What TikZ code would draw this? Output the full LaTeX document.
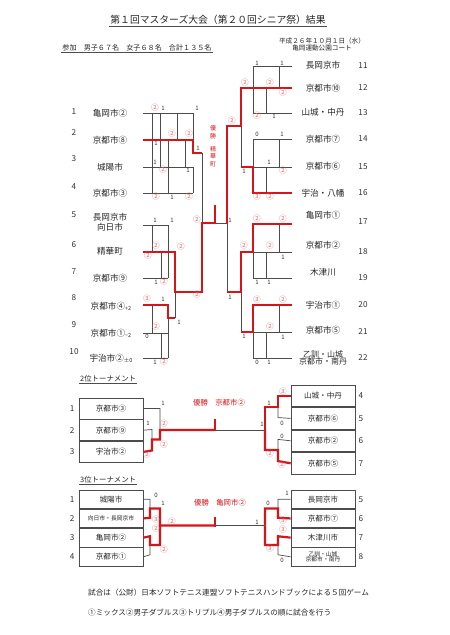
\documentclass[tikz,border=0pt]{standalone}
\usepackage{fontspec}
\setmainfont{Noto Sans CJK JP}
\usetikzlibrary{positioning}
\newcommand{\fsz}[1]{\fontsize{#1}{#1}\selectfont}
\definecolor{linered}{RGB}{215,20,25}
\definecolor{scorered}{RGB}{235,105,110}

\begin{document}
\begin{tikzpicture}[
    x=1pt, y=-1pt,
    team/.style={font=\fsz{8.6}, text=black!85, inner sep=0pt},
    seed/.style={font=\fsz{8.2}, text=black!80, inner sep=0pt},
    win/.style={font=\fsz{7.6}, text=scorered, inner sep=0pt},
    lose/.style={font=\fsz{6}, text=black!80, inner sep=0pt},
    bline/.style={draw=black!70, line width=0.7pt},
    rline/.style={draw=linered, line width=2.2pt},
    tbox/.style={draw=black!70, line width=0.7pt, minimum width=64pt,
                 font=\fsz{7.6}, text=black!85, inner sep=0pt, align=center},
    head/.style={font=\fsz{7.4}, text=black!85, inner sep=1pt},
    champ/.style={font=\fsz{7.4}, text=linered, inner sep=0pt},
]
\useasboundingbox[fill=white] (0,0) rectangle (450,635);

% Title
\node[font=\fsz{9.8}, text=black!85, inner sep=1pt] (title) at (218,20)
    {第１回マスターズ大会（第２０回シニア祭）結果};
\draw[black!70, line width=0.5pt] (title.south west) -- (title.south east);
\node[head, font=\fsz{7.1}] (entry) at (137,48) {参加　男子６７名　女子６８名　合計１３５名};
\draw[black!70, line width=0.5pt] (entry.south west) -- (entry.south east);
\node[head, font=\fsz{6.6}, inner sep=0pt] (date) at (322,40.5) {平成２６年１０月１日（水）};
\node[head, font=\fsz{6.6}, inner sep=0pt] (venue) at (322,47.5) {亀岡運動公園コート};

% Left teams
\foreach \i/\y/\ny/\name in {1/113/112/亀岡市②, 2/140/133/京都市⑧, 3/167/159/城陽市,
    4/193/187/京都市③, 6/251/245/精華町, 7/278/272/京都市⑨} {
  \node[seed] (n\i) at (74,\ny) {\i};
  \node[team] (t\i) at (110,\y) {\name};
}
\node[seed] (n5) at (74,215) {5};
\node[team, align=center] (t5) at (110,222) {長岡京市\\[1pt]向日市};
\node[seed] (n8) at (74,298) {8};
\node[team] (t8) at (111,306) {京都市④\raisebox{-1pt}{\fsz{5.5}+2}};
\node[seed] (n9) at (74,325) {9};
\node[team] (t9) at (111,333) {京都市①\raisebox{-1pt}{\fsz{5.5}−2}};
\node[seed] (n10) at (74,352) {10};
\node[team] (t10) at (111,358) {宇治市②\raisebox{-1pt}{\fsz{5.5}±0}};

% Right teams
\foreach \i/\y/\ty/\name in {11/66/65/長岡京市, 12/88/88/京都市⑩, 13/113/112/山城・中丹,
    14/139/139/京都市⑦, 15/167/166/京都市⑥, 16/193/193/宇治・八幡,
    17/222/215/亀岡市①, 18/252/245/京都市②, 19/278/272/木津川,
    20/305/305/宇治市①, 21/332/330/京都市⑤} {
  \node[team] (t\i) at (323,\ty) {\name};
  \node[seed] (n\i) at (363,\y) {\i};
}
\node[team, align=center, font=\fsz{8}] (t22) at (323,358) {乙訓・山城\\[-1pt]京都市・南丹};
\node[seed] (n22) at (363,358) {22};

% Group 1-4
\draw[bline] (143,113) -- (193,113) (143,167) -- (193,167) (143,193) -- (193,193);
\draw[bline] (152,113) -- (152,193) (160,113) -- (160,167) (168,140) -- (168,193)
             (177,113) -- (177,140) (185,140) -- (185,167)
             (193,113) -- (193,140) (193,167) -- (193,193);
\draw[rline] (143,140) -- (193,140) -- (193,153) -- (202,153);

% Groups 5-7 and 8-10
\foreach \ya/\yb/\yc in {225/252/278, 305/333/358}
  \draw[bline] (143,\ya) -- (168,\ya) (143,\yb) -- (168,\yb) (143,\yc) -- (168,\yc)
               (152,\ya) -- (152,\yb) (161,\yb) -- (161,\yc) (168,\ya) -- (168,\yc);
\draw[bline] (175,292) -- (175,318) (202,153) -- (202,223) (215,223) -- (227,223);
\draw[rline] (143,305) -- (168,305) -- (168,318) -- (175,318);
\draw[rline] (143,252) -- (175,252) -- (175,292) -- (202,292) -- (202,223) -- (215,223);
\draw[rline] (215,224) -- (215,205);

% Right groups
\foreach \ya/\yb/\yc in {66/88/113, 139/167/193, 224/252/278, 305/332/358}
  \draw[bline] (253,\ya) -- (292,\ya) (253,\yb) -- (292,\yb) (253,\yc) -- (292,\yc)
               (253,\ya) -- (253,\yc) (266,\yb) -- (266,\yc) (279,\ya) -- (279,\yb);
\draw[bline] (241,126) -- (241,167) (241,292) -- (241,332) (227,223) -- (227,292);
\draw[rline] (292,88) -- (241,88) -- (241,126) -- (227,126) -- (227,224);
\draw[rline] (292,193) -- (253,193) -- (253,167) -- (241,167);
\draw[rline] (292,224) -- (253,224) -- (253,252) -- (241,252) -- (241,292) -- (227,292);
\draw[rline] (292,305) -- (253,305) -- (253,332) -- (241,332);

% Champion
\node[font=\fsz{6}, text=linered, align=center, inner sep=0pt] (champ1) at (213,146)
    {優\\[1.5pt]勝\\[7pt]精\\[1.5pt]華\\[1.5pt]町};

% Scores, main bracket
\foreach \x/\y/\s [count=\i] in {155/108/②, 172/134/②, 189/134/②, 163/170/②, 156/197/②, 189/197/②,
    156/246/②, 148/256/②, 181/247/②, 164/282/②, 147/299/③, 156/327/②, 164/362/②,
    197/295/②, 197/220/②, 232/121/②, 245/83/②, 270/83/②, 283/93/②, 257/116/②,
    283/171/②, 257/197/③, 270/197/②, 257/219/②, 283/219/②, 270/246/②, 244/246/②,
    257/300/③, 283/300/②, 270/327/②}
  \node[win] (w\i) at (\x,\y) {\s};
\foreach \x/\y/\s [count=\i] in {163/108/1, 197/108/1, 156/143/1, 155/162/1, 188/170/1, 172/197/1,
    198/148/1, 155/220/1, 172/220/1, 156/282/1, 163/299/1, 147/336/0, 155/362/1, 179/322/1,
    230/220/1, 230/297/1, 257/63/1, 282/63/1, 274/116/1, 244/171/1, 257/134/0, 282/134/1,
    269/162/1, 283/257/1, 257/282/1, 269/282/1, 283/337/1, 257/362/0, 269/362/1, 244/336/1}
  \node[lose] (l\i) at (\x,\y) {\s};

% 2nd place tournament
\node[head, anchor=west] (sec) at (79,379) {2位トーナメント};
\draw[black!70, line width=0.5pt] (sec.south west) -- (sec.south east);
\node[tbox, minimum height=21pt] (a1) at (111,408.5) {京都市③};
\node[tbox, minimum height=21pt, below=0pt of a1] (a2) {京都市⑨};
\node[tbox, minimum height=21pt, below=0pt of a2] (a3) {宇治市②};
\node[tbox, minimum height=21.75pt] (b4) at (323,395.9) {山城・中丹};
\node[tbox, minimum height=21.75pt, below=0pt of b4] (b5) {京都市⑥};
\node[tbox, minimum height=21.75pt, below=0pt of b5] (b6) {京都市②};
\node[tbox, minimum height=21.75pt, below=0pt of b6] (b7) {京都市⑤};
\foreach \n in {1,2,3} \node[seed, left=4pt of a\n] (an\n) {\n};
\foreach \n in {4,5,6,7} \node[seed, right=3pt of b\n] (bn\n) {\n};

\draw[bline] (a1.east) -- (160,408.5) -- (160,430) (a2.east) -- (152,429.5) -- (152,439.5);
\draw[rline] (a3.east) -- (152,450.5) -- (152,439.5) -- (160,439.5) -- (160,430) -- (215,430);
\draw[rline] (215,431) -- (215,419);
\draw[bline] (215,430) -- (265,430);
\draw[bline] (b5.west) -- (278,417.6) -- (278,407) (b6.west) -- (278,439.4) -- (278,450);
\draw[rline] (b4.west) -- (278,395.9) -- (278,407) -- (265,407) -- (265,430);
\draw[rline] (b7.west) -- (278,461.1) -- (278,450) -- (265,450) -- (265,430);
\node[champ] (champ2) at (219,403) {優勝　京都市②};

\foreach \x/\y/\s [count=\i] in {164/424/②, 164/445/②, 147/455/②, 283/392/③, 270/454/②, 282/465/②}
  \node[win] (sw\i) at (\x,\y) {\s};
\foreach \x/\y/\s [count=\i] in {163/403/1, 148/423/1, 269/403/1, 282/423/0, 262/424/1, 282/436/0}
  \node[lose] (sl\i) at (\x,\y) {\s};

% 3rd place tournament
\node[head, anchor=west] (thi) at (79,480) {3位トーナメント};
\draw[black!70, line width=0.5pt] (thi.south west) -- (thi.south east);
\node[tbox, minimum height=18.5pt] (c1) at (111,499.25) {城陽市};
\node[tbox, minimum height=18.5pt, below=0pt of c1, font=\fsz{5.8}] (c2) {向日市・長岡京市};
\node[tbox, minimum height=18.5pt, below=0pt of c2] (c3) {亀岡市②};
\node[tbox, minimum height=18.5pt, below=0pt of c3] (c4) {京都市①};
\node[tbox, minimum height=18.5pt] (d5) at (323,499.25) {長岡京市};
\node[tbox, minimum height=18.5pt, below=0pt of d5] (d6) {京都市⑦};
\node[tbox, minimum height=18.5pt, below=0pt of d6] (d7) {木津川市};
\node[tbox, minimum height=18.5pt, below=0pt of d7, font=\fsz{5.8}] (d8) {乙訓・山城\\京都市・南丹};
\foreach \n in {1,2,3,4} \node[seed, left=4pt of c\n] (cn\n) {\n};
\foreach \n in {5,6,7,8} \node[seed, right=3pt of d\n] (dn\n) {\n};

\draw[bline] (c1.east) -- (150,499.25) -- (150,508.5) (c4.east) -- (150,554.75) -- (150,545);
\draw[rline] (c2.east) -- (150,517.75) -- (150,508.5) -- (160,508.5) -- (160,525.5);
\draw[rline] (c3.east) -- (150,536.25) -- (150,545) -- (160,545) -- (160,525.5) -- (215,525.5);
\draw[rline] (215,526.5) -- (215,517);
\draw[bline] (215,525.5) -- (265,525.5);
\draw[bline] (d5.west) -- (278,499.25) -- (278,508.5) (d8.west) -- (278,554.75) -- (278,545);
\draw[rline] (d6.west) -- (278,517.75) -- (278,508.5) -- (265,508.5) -- (265,525.5);
\draw[rline] (d7.west) -- (278,536.25) -- (278,545) -- (265,545) -- (265,525.5);
\node[champ] (champ3) at (220,503) {優勝　亀岡市②};

\foreach \x/\y/\s [count=\i] in {156/520/③, 156/529/②, 172/522/②, 164/550/②, 283/521/③, 283/530/③, 270/549/③}
  \node[win] (tw\i) at (\x,\y) {\s};
\foreach \x/\y/\s [count=\i] in {156/495/0, 163/503/1, 287/493/1, 268/503/0, 257/522/1, 282/560/0}
  \node[lose] (tl\i) at (\x,\y) {\s};

% Notes
\node[head, font=\fsz{7.6}, anchor=west, inner sep=0pt] (note1) at (88,593)
    {試合は（公財）日本ソフトテニス連盟ソフトテニスハンドブックによる５回ゲーム};
\node[head, font=\fsz{7.6}, anchor=west, inner sep=0pt] (note2) at (88,613)
    {①ミックス②男子ダブルス③トリプル④男子ダブルスの順に試合を行う};

\end{tikzpicture}
\end{document}
